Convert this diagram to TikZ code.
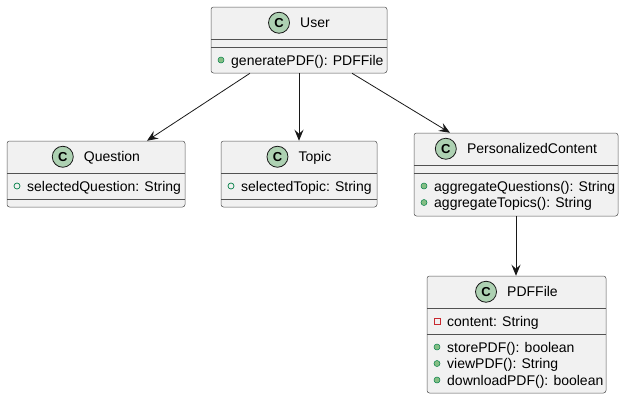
\documentclass[tikz,border=0pt]{standalone}
\usepackage{fontspec}
\setmainfont{Liberation Sans}
\usetikzlibrary{arrows.meta,fit}

\definecolor{boxfill}{HTML}{F1F1F1}
\definecolor{boxline}{HTML}{181818}
\definecolor{iconfill}{HTML}{ADD1B2}
\definecolor{pubfill}{HTML}{84BE84}
\definecolor{publine}{HTML}{038048}
\definecolor{privline}{HTML}{C82930}

\tikzset{
  classbox/.style={draw=boxline!75, fill=boxfill, line width=0.5pt, rounded corners=2.5pt, inner sep=0pt},
  divider/.style={draw=boxline!75, line width=0.5pt},
  titletext/.style={inner sep=0pt, anchor=base, font=\fontsize{14}{16}\selectfont},
  membertext/.style={inner sep=0pt, anchor=base west, font=\fontsize{14}{16}\selectfont},
  classicon/.style={circle, draw=boxline, fill=iconfill, line width=0.8pt, minimum size=21pt, inner sep=0pt,
    font=\fontsize{13}{13}\selectfont\bfseries},
  pubmethod/.style={circle, draw=publine, fill=pubfill, line width=0.5pt, minimum size=6pt, inner sep=0pt},
  pubfield/.style={circle, draw=publine, fill=none, line width=0.7pt, minimum size=6pt, inner sep=0pt},
  privfield/.style={rectangle, draw=privline, fill=none, line width=0.7pt, minimum size=6pt, inner sep=0pt},
  assoc/.style={draw=boxline, line width=0.8pt, -{Stealth[length=11pt,width=9pt,inset=4pt]}},
}

\begin{document}
\begin{tikzpicture}[x=1pt, y=-1pt]
  \useasboundingbox (0,0) rectangle (625,400);

  % ---------- User ----------
  \node[classbox, fit={(211,7) (387,73)}] (user) {};
  \draw[divider] (211,39) -- (387,39);
  \draw[divider] (211,47) -- (387,47);
  \node[titletext] (userT) at ([xshift=16pt, yshift=-21pt]user.north) {User};
  \node[classicon] (userC) at ([xshift=-21pt, yshift=5pt]userT.base west) {C};
  \node[pubmethod] (userM1) at (221,60) {};
  \node[membertext] (userM1t) at (231,65) {generatePDF(): PDFFile};

  % ---------- Question ----------
  \node[classbox, fit={(7,141) (185,207)}] (question) {};
  \draw[divider] (7,173) -- (185,173);
  \draw[divider] (7,199) -- (185,199);
  \node[titletext] (questionT) at ([xshift=16pt, yshift=-21pt]question.north) {Question};
  \node[classicon] (questionC) at ([xshift=-21pt, yshift=5pt]questionT.base west) {C};
  \node[pubfield] (questionF1) at (17,186) {};
  \node[membertext] (questionF1t) at (27,191) {selectedQuestion: String};

  % ---------- Topic ----------
  \node[classbox, fit={(221,141) (377,207)}] (topic) {};
  \draw[divider] (221,173) -- (377,173);
  \draw[divider] (221,199) -- (377,199);
  \node[titletext] (topicT) at ([xshift=16pt, yshift=-21pt]topic.north) {Topic};
  \node[classicon] (topicC) at ([xshift=-21pt, yshift=5pt]topicT.base west) {C};
  \node[pubfield] (topicF1) at (231,186) {};
  \node[membertext] (topicF1t) at (241,191) {selectedTopic: String};

  % ---------- PersonalizedContent ----------
  \node[classbox, fit={(414,133) (618,216)}] (pc) {};
  \draw[divider] (414,165) -- (618,165);
  \draw[divider] (414,173) -- (618,173);
  \node[titletext] (pcT) at ([xshift=16pt, yshift=-21pt]pc.north) {PersonalizedContent};
  \node[classicon] (pcC) at ([xshift=-21pt, yshift=5pt]pcT.base west) {C};
  \node[pubmethod] (pcM1) at (424,186) {};
  \node[membertext] (pcM1t) at (434,191) {aggregateQuestions(): String};
  \node[pubmethod] (pcM2) at (424,202.5) {};
  \node[membertext] (pcM2t) at (434,207.5) {aggregateTopics(): String};

  % ---------- PDFFile ----------
  \node[classbox, fit={(427,276) (606,393)}] (pdf) {};
  \draw[divider] (427,308) -- (606,308);
  \draw[divider] (427,334) -- (606,334);
  \node[titletext] (pdfT) at ([xshift=16pt, yshift=-21pt]pdf.north) {PDFFile};
  \node[classicon] (pdfC) at ([xshift=-21pt, yshift=5pt]pdfT.base west) {C};
  \node[privfield] (pdfF1) at (437,321) {};
  \node[membertext] (pdfF1t) at (447,326) {content: String};
  \node[pubmethod] (pdfM1) at (437,347) {};
  \node[membertext] (pdfM1t) at (447,352) {storePDF(): boolean};
  \node[pubmethod] (pdfM2) at (437,363.5) {};
  \node[membertext] (pdfM2t) at (447,368.5) {viewPDF(): String};
  \node[pubmethod] (pdfM3) at (437,380) {};
  \node[membertext] (pdfM3t) at (447,385) {downloadPDF(): boolean};

  % ---------- associations ----------
  \draw[assoc] ([xshift=-49pt]user.south) -- ([xshift=51pt]question.north);
  \draw[assoc] (user.south) -- (topic.north);
  \draw[assoc] ([xshift=53pt]user.south) -- ([xshift=-66pt]pc.north);
  \draw[assoc] (pc.south) -- (pc.south |- pdf.north);
\end{tikzpicture}
\end{document}
